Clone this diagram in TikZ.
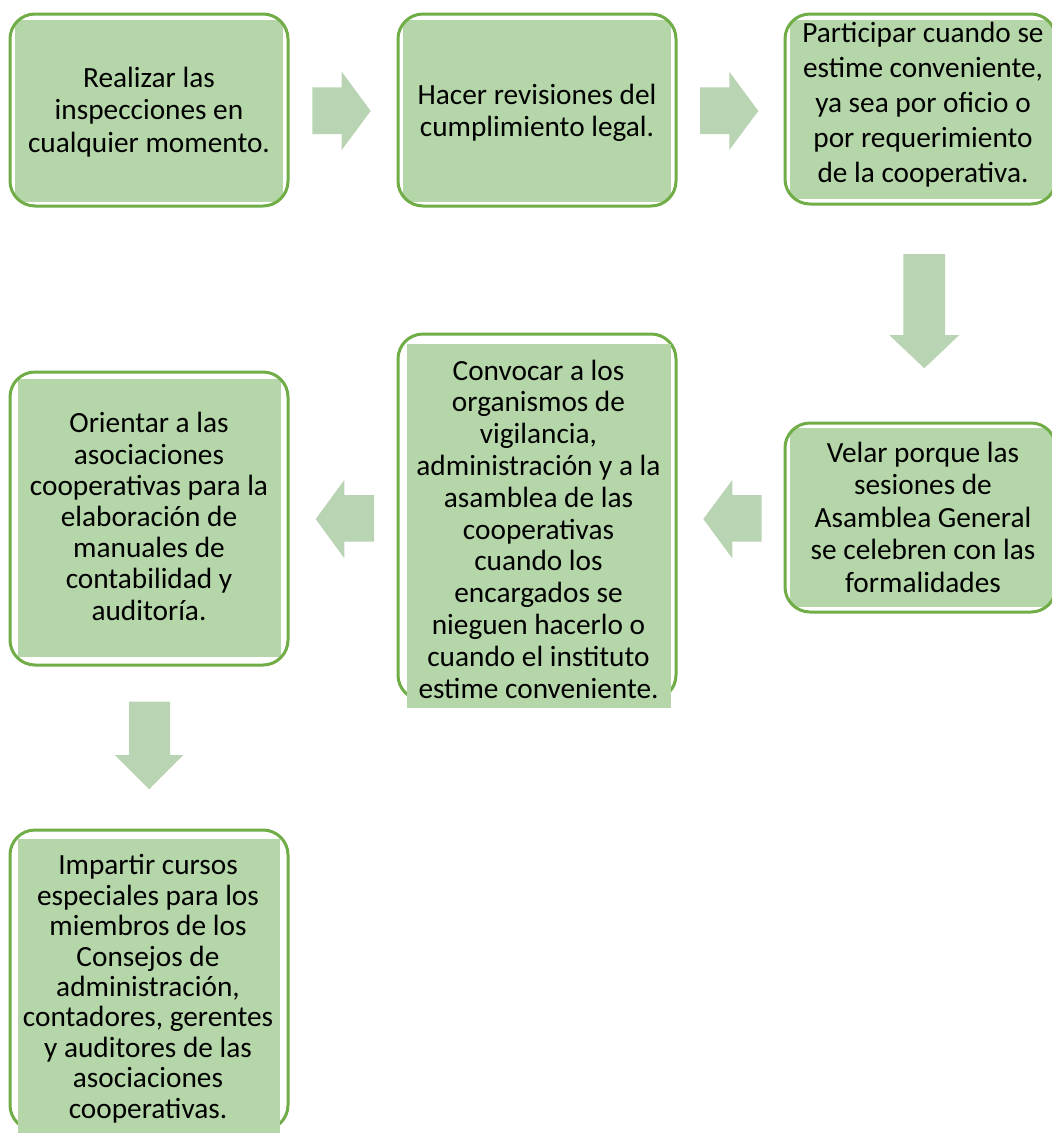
\documentclass[tikz,border=0pt]{standalone}
\usepackage{fontspec}
\setmainfont{Carlito}
\definecolor{boxline}{HTML}{70AD47}
\definecolor{boxfill}{HTML}{B5D6A8}
\definecolor{arrowfill}{HTML}{B9D4B2}
\begin{document}
\begin{tikzpicture}[x=1pt,y=-1pt,
  boxframe/.style={draw=boxline, line width=3pt, rounded corners=25pt, inner sep=0pt},
  boxtext/.style={anchor=base, align=center, inner sep=0pt, font=\fontsize{29.3}{#1}\selectfont},
  blockarrow/.style={fill=arrowfill}]
\useasboundingbox (0,0) rectangle (1052,1133);
\clip (0,0) rectangle (1052,1133);

% ---- Box 1
\begin{scope}
  \clip[rounded corners=25pt] (10,14) rectangle (288,206);
  \fill[boxfill] (15,20) rectangle (283,202);
\end{scope}
\node[boxframe, minimum width=278pt, minimum height=192pt] (f1) at (149,110) {};
\node[boxtext=32.5] (t1) at (149,152) {Realizar las\\inspecciones en\\cualquier momento.};

% ---- Box 2
\begin{scope}
  \clip[rounded corners=25pt] (398,14) rectangle (676,206);
  \fill[boxfill] (403,20) rectangle (671,202);
\end{scope}
\node[boxframe, minimum width=278pt, minimum height=192pt] (f2) at (537,110) {};
\node[boxtext=32.5] (t2) at (537,136.5) {Hacer revisiones del\\cumplimiento legal.};

% ---- Box 3
\begin{scope}
  \clip[rounded corners=25pt] (785,14) rectangle (1056,204);
  \fill[boxfill] (790,20) rectangle (1052,199);
\end{scope}
\node[boxframe, minimum width=271pt, minimum height=190pt] (f3) at (920.5,109) {};
\node[boxtext=35] (t3) at (923,182) {Participar cuando se\\estime conveniente,\\ya sea por oficio o\\por requerimiento\\de la cooperativa.};

% ---- Box 4
\begin{scope}
  \clip[rounded corners=25pt] (785,423) rectangle (1056,612);
  \fill[boxfill] (790,428) rectangle (1052,607);
\end{scope}
\node[boxframe, minimum width=271pt, minimum height=189pt] (f4) at (920.5,517.5) {};
\node[boxtext=32.5] (t4) at (923,592) {Velar porque las\\sesiones de\\Asamblea General\\se celebren con las\\formalidades};

% ---- Box 5
\node[boxframe, minimum width=278pt, minimum height=366pt] (f5) at (537,517) {};
\fill[boxfill] (407,344) rectangle (671,708);
\node[boxtext=31.8] (t5) at (538.5,698) {Convocar a los\\organismos de\\vigilancia,\\administración y a la\\asamblea de las\\cooperativas\\cuando los\\encargados se\\nieguen hacerlo o\\cuando el instituto\\estime conveniente.};

% ---- Box 6
\begin{scope}
  \clip[rounded corners=25pt] (10,372) rectangle (288,665);
  \fill[boxfill] (18,379) rectangle (281,657);
\end{scope}
\node[boxframe, minimum width=278pt, minimum height=293pt] (f6) at (149,518.5) {};
\node[boxtext=31.2] (t6) at (149,620) {Orientar a las\\asociaciones\\cooperativas para la\\elaboración de\\manuales de\\contabilidad y\\auditoría.};

% ---- Box 7
\node[boxframe, minimum width=278pt, minimum height=300pt] (f7) at (149,980) {};
\fill[boxfill] (18,839) rectangle (280,1133);
\node[boxtext=30.4] (t7) at (148,1118) {Impartir cursos\\especiales para los\\miembros de los\\Consejos de\\administración,\\contadores, gerentes\\y auditores de las\\asociaciones\\cooperativas.};

% ---- Block arrows
% right 1
\fill[blockarrow] (312.3,87.3) -- (341.7,87.3) -- (341.7,71.7) -- (370.7,111) -- (341.7,150) -- (341.7,134) -- (312.3,134) -- cycle;
% right 2
\fill[blockarrow] (700,87.3) -- (729.3,87.3) -- (729.3,71.7) -- (758.3,111) -- (729.3,150) -- (729.3,134) -- (700,134) -- cycle;
% down 1
\fill[blockarrow] (903.3,254) -- (945,254) -- (945,335) -- (959.3,335) -- (924.3,368.3) -- (889.3,335) -- (903.3,335) -- cycle;
% left 1
\fill[blockarrow] (761.7,495) -- (732.3,495) -- (732.3,480) -- (703.3,519) -- (732.3,558.3) -- (732.3,541.7) -- (761.7,541.7) -- cycle;
% left 2
\fill[blockarrow] (374,495) -- (344.3,495) -- (344.3,480) -- (315.7,519) -- (344.3,558.3) -- (344.3,541.7) -- (374,541.7) -- cycle;
% down 2
\fill[blockarrow] (129,701.7) -- (170,701.7) -- (170,755) -- (183.3,755) -- (149.2,789.3) -- (115,755) -- (129,755) -- cycle;
\end{tikzpicture}
\end{document}
